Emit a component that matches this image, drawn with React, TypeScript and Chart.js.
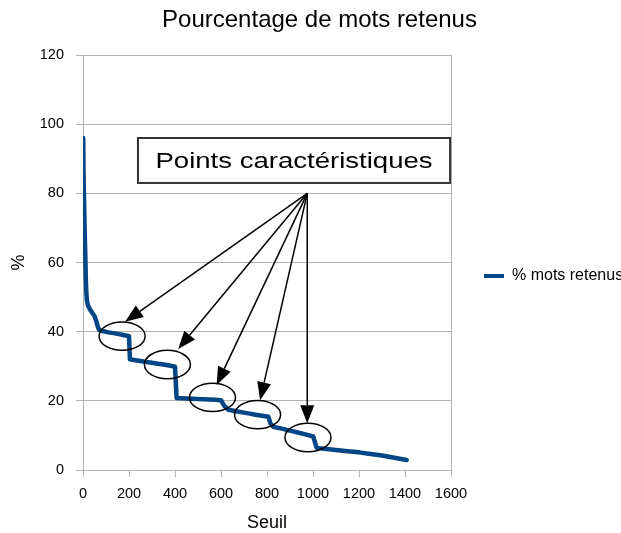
import React, { useEffect, useRef } from "react";
import { Chart, registerables } from "chart.js";

Chart.register(...registerables);

// ---- data ----
const chartTitle = "Pourcentage de mots retenus";
const seriesLabel = "% mots retenus";
const xAxisTitle = "Seuil";
const yAxisTitle = "%";
const noteText = "Points caractéristiques";

const seuil = [
  1, 2, 3, 4, 6, 8, 10, 12, 14, 17,
  22, 30, 40, 50, 58, 64, 70, 85, 110, 140,
  170, 200, 204, 250, 300, 350, 400, 407, 450, 500,
  550, 600, 615, 632, 700, 750, 806, 815, 827, 900,
  950, 1001, 1016, 1100, 1200, 1300, 1407,
];
const pctRetenus = [
  96, 88, 83, 80, 73, 67, 62, 56, 52, 49,
  47.5, 46.5, 45.5, 44.5, 43, 41.5, 40.5, 40.2, 39.8, 39.5,
  39.1, 38.7, 32, 31.5, 31, 30.5, 29.9, 20.8, 20.7, 20.5,
  20.4, 20.2, 18.5, 17.4, 16.6, 16, 15.4, 13.5, 12.5, 11.4,
  10.6, 9.7, 6.4, 5.8, 5.1, 4.2, 2.9,
];

// annotation anchors (data units)
const noteEllipseX = [170, 367, 563, 759, 978];
const noteEllipseY = [38.7, 30.5, 21.0, 16.0, 9.4];
const noteEllipseRadius = [100, 4.1]; // [x units, y units]
const noteTipX = [183, 414, 581, 770, 975];
const noteTipY = [42.9, 35.0, 24.6, 20.2, 13.5];
const noteOrigin = [975, 80];
const noteBoxX = [239, 1596];
const noteBoxY = [96, 83];

const FONT = '"Liberation Sans", Arial, sans-serif';
const LINE_COLOR = "#004586";
const GRID = "#b3b3b3";

const notesPlugin = {
  id: "notes",
  afterDatasetsDraw(chart: any) {
    const { ctx } = chart;
    const xs = chart.scales.x;
    const ys = chart.scales.y;
    const px = (v: number) => xs.getPixelForValue(v);
    const py = (v: number) => ys.getPixelForValue(v);
    ctx.save();

    // box
    const bx0 = px(noteBoxX[0]);
    const bx1 = px(noteBoxX[1]);
    const by0 = py(noteBoxY[0]);
    const by1 = py(noteBoxY[1]);
    ctx.fillStyle = "#fff";
    ctx.fillRect(bx0, by0, bx1 - bx0, by1 - by0);
    ctx.strokeStyle = "#333";
    ctx.lineWidth = 2;
    ctx.strokeRect(bx0, by0, bx1 - bx0, by1 - by0);

    // text
    ctx.font = `22px ${FONT}`;
    ctx.fillStyle = "#000";
    ctx.textAlign = "center";
    ctx.textBaseline = "alphabetic";
    const w = ctx.measureText(noteText).width;
    const target = (bx1 - bx0) * 0.888;
    ctx.save();
    ctx.translate((bx0 + bx1) / 2, (by0 + by1) / 2 + 22 * 0.358);
    ctx.scale(target / w, 1);
    ctx.fillText(noteText, 0, 0);
    ctx.restore();

    // arrows
    const ox = px(noteOrigin[0]);
    const oy = py(noteOrigin[1]);
    ctx.strokeStyle = "#000";
    ctx.fillStyle = "#000";
    ctx.lineWidth = 1.5;
    noteTipX.forEach((tx, i) => {
      const tipx = px(tx);
      const tipy = py(noteTipY[i]);
      const ang = Math.atan2(tipy - oy, tipx - ox);
      const L = 18;
      const W = 7;
      const bx = tipx - L * Math.cos(ang);
      const by = tipy - L * Math.sin(ang);
      ctx.beginPath();
      ctx.moveTo(ox, oy);
      ctx.lineTo(bx, by);
      ctx.stroke();
      ctx.beginPath();
      ctx.moveTo(tipx, tipy);
      ctx.lineTo(bx + W * Math.sin(ang), by - W * Math.cos(ang));
      ctx.lineTo(bx - W * Math.sin(ang), by + W * Math.cos(ang));
      ctx.closePath();
      ctx.fill();
    });

    // ellipses
    noteEllipseX.forEach((cx, i) => {
      const cpx = px(cx);
      const cpy = py(noteEllipseY[i]);
      const rx = px(cx + noteEllipseRadius[0]) - cpx;
      const ry = cpy - py(noteEllipseY[i] + noteEllipseRadius[1]);
      ctx.beginPath();
      ctx.ellipse(cpx, cpy, rx, ry, 0, 0, Math.PI * 2);
      ctx.stroke();
    });

    ctx.restore();
  },
};

export default function App() {
  const canvasRef = useRef<HTMLCanvasElement | null>(null);

  useEffect(() => {
    if (!canvasRef.current) return;
    const data = seuil.map((s, i) => ({ x: s, y: pctRetenus[i] }));
    const chart = new Chart(canvasRef.current, {
      type: "line",
      data: {
        datasets: [
          {
            label: seriesLabel,
            data,
            borderColor: LINE_COLOR,
            backgroundColor: LINE_COLOR,
            borderWidth: 4.5,
            pointRadius: 0,
            tension: 0.0001,
            borderCapStyle: "round",
            borderJoinStyle: "round",
          },
        ],
      },
      options: {
        animation: false,
        responsive: false,
        layout: { padding: { left: 18, right: 0, top: 0, bottom: 0 } },
        plugins: {
          title: {
            display: true,
            text: chartTitle,
            color: "#000",
            font: { family: FONT, size: 24, weight: "normal", lineHeight: 1 },
            padding: { top: 8, bottom: 23 },
          },
          legend: {
            position: "right",
            maxWidth: 170,
            title: {
              display: true,
              text: "",
              font: { size: 10, lineHeight: 1 },
              padding: { top: 9, bottom: 0 },
            },
            labels: {
              boxWidth: 20,
              boxHeight: 4,
              padding: 33,
              color: "#000",
              font: { family: FONT, size: 16 },
              generateLabels: (c: any) =>
                Chart.defaults.plugins.legend.labels
                  .generateLabels(c)
                  .map((it: any) => ({
                    ...it,
                    lineWidth: 0,
                    fillStyle: LINE_COLOR,
                    strokeStyle: LINE_COLOR,
                  })),
            },
          },
          tooltip: { enabled: false },
        },
        scales: {
          x: {
            type: "linear",
            min: 0,
            max: 1600,
            ticks: {
              stepSize: 200,
              autoSkip: false,
              maxRotation: 0,
              padding: 8,
              color: "#000",
              font: { family: FONT, size: 14.5 },
              callback: (v: any) => String(v),
            },
            grid: {
              color: (ctx: any) =>
                ctx.tick && ctx.tick.value === 1600 ? GRID : "rgba(0,0,0,0)",
              tickColor: GRID,
              tickLength: 7,
            },
            border: { color: GRID },
            title: {
              display: true,
              text: xAxisTitle,
              color: "#000",
              font: { family: FONT, size: 18, lineHeight: 1 },
              padding: { top: 0, bottom: 1 },
            },
            afterFit: (s: any) => {
              s.height = 63;
            },
          },
          y: {
            min: 0,
            max: 120,
            ticks: {
              stepSize: 20,
              padding: 12,
              color: "#000",
              font: { family: FONT, size: 14.5 },
              callback: (v: any) => String(v),
            },
            grid: { color: GRID, tickColor: GRID, tickLength: 7 },
            border: { color: GRID },
            title: {
              display: true,
              text: yAxisTitle,
              color: "#000",
              font: { family: FONT, size: 18, lineHeight: 1 },
              padding: { top: -8, bottom: 0 },
            },
            afterFit: (s: any) => {
              s.width = 65;
            },
          },
        },
      },
      plugins: [notesPlugin],
    } as any);
    return () => chart.destroy();
  }, []);

  return (
    <div style={{ position: "absolute", left: 0, top: 0, width: 621, height: 533, background: "#fff" }}>
      <canvas ref={canvasRef} width={621} height={533} style={{ display: "block" }} />
    </div>
  );
}
